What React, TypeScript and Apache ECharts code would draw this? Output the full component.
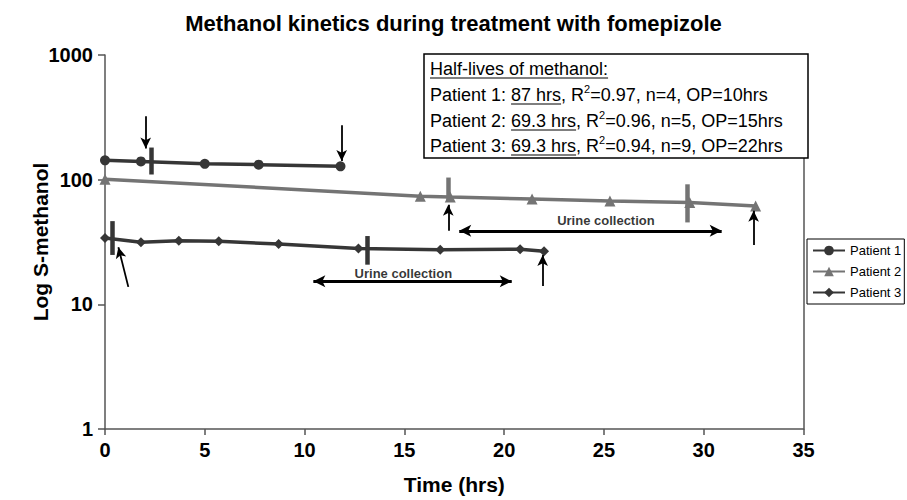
import React, { useEffect, useRef } from 'react';
import * as echarts from 'echarts';

const chartTitle = 'Methanol kinetics during treatment with fomepizole';
const xAxisName = 'Time (hrs)';
const yAxisName = 'Log S-methanol';
const seriesNames = ['Patient 1', 'Patient 2', 'Patient 3'];

const p1Time = [0, 1.8, 5.0, 7.7, 11.8];
const p1Value = [143, 140, 134, 132, 128];
const p2Time = [0, 15.8, 17.3, 21.4, 25.3, 29.3, 32.6];
const p2Value = [101, 73.5, 72.5, 70, 67.5, 65.5, 61.5];
const p3Time = [0, 1.8, 3.7, 5.7, 8.7, 12.7, 16.8, 20.8, 22.0];
const p3Value = [34.1, 31.5, 32.4, 32.0, 30.5, 28.0, 27.4, 27.7, 26.6];

// vertical bars: time, low value, high value, patient index
const barTimes = [2.3, 0.34, 13.15, 17.2, 29.2];
const barLow = [110, 24.9, 20.8, 67, 45.4];
const barHigh = [181, 46.5, 35.3, 104, 91.8];
const barPatient = [0, 2, 2, 1, 1];

// single arrows: tail (t, v) -> head (t, v)
const arrowTailT = [2.04, 11.86, 1.17, 17.2, 32.5, 21.93];
const arrowTailV = [322, 273, 13.8, 38.9, 29.9, 14.0];
const arrowHeadT = [2.04, 11.86, 0.67, 17.2, 32.5, 21.93];
const arrowHeadV = [178, 141, 28.7, 62.8, 56.2, 24.9];

// urine collection double arrows
const urineStart = [17.75, 10.44];
const urineEnd = [30.9, 20.38];
const urineLevel = [38.9, 15.3];
const urineLabelT = [25.1, 14.95];
const urineLabelV = [47.4, 17.8];
const urineLabelText = ['Urine collection', 'Urine collection'];

// half-life box
const boxHeader = 'Half-lives of methanol:';
const halfLives = ['87 hrs', '69.3 hrs', '69.3 hrs'];
const r2Values = ['0.97', '0.96', '0.94'];
const nValues = ['4', '5', '9'];
const opValues = ['10hrs', '15hrs', '22hrs'];

const FONT = "'Liberation Sans', Arial, Helvetica, sans-serif";
const DARK = '#363636';
const GREY = '#747474';
const seriesColors = [DARK, GREY, DARK];

export default function App() {
  const ref = useRef<HTMLDivElement>(null);
  useEffect(() => {
    if (!ref.current) return;
    const chart = echarts.init(ref.current, undefined, { renderer: 'svg' });

    const canvas = document.createElement('canvas');
    const ctx = canvas.getContext('2d')!;
    const measure = (s: string, size: number) => {
      ctx.font = `${size}px "Liberation Sans", Arial, sans-serif`;
      return ctx.measureText(s).width;
    };

    const boxX = 424, boxY = 54, boxW = 384, boxH = 104;
    const textX = 430;
    const fs = 18;
    const lineYs = [69, 95, 121, 146];
    const graphics: any[] = [
      { type: 'rect', shape: { x: boxX, y: boxY, width: boxW, height: boxH }, style: { fill: '#fff', stroke: '#000', lineWidth: 1.5 }, z: 10 },
    ];
    const addText = (s: string, x: number, y: number, size: number) => {
      graphics.push({ type: 'text', x, y, z: 11, style: { text: s, fontSize: size, fontFamily: FONT, fill: '#000', textAlign: 'left', textVerticalAlign: 'middle' } });
    };
    const addUnderline = (x1: number, x2: number, y: number) => {
      graphics.push({ type: 'line', z: 11, shape: { x1, y1: y, x2, y2: y }, style: { stroke: '#000', lineWidth: 1.2 } });
    };
    addText(boxHeader, textX, lineYs[0], fs);
    addUnderline(textX, textX + measure(boxHeader, fs), lineYs[0] + 9);
    for (let i = 0; i < 3; i++) {
      const y = lineYs[i + 1];
      let x = textX;
      const pre = `${seriesNames[i]}: `;
      addText(pre, x, y, fs);
      x += measure(pre, fs);
      addText(halfLives[i], x, y, fs);
      const w = measure(halfLives[i], fs);
      addUnderline(x, x + w, y + 9);
      x += w;
      const mid = ', R';
      addText(mid, x, y, fs);
      x += measure(mid, fs);
      addText('2', x, y - 6, 11);
      x += measure('2', 11);
      addText(`=${r2Values[i]}, n=${nValues[i]}, OP=${opValues[i]}`, x, y, fs);
    }

    const markData: any[] = [];
    barTimes.forEach((t, i) => {
      markData.push([
        { coord: [t, barHigh[i]], symbol: 'none', lineStyle: { color: seriesColors[barPatient[i]], width: 4.5, type: 'solid' } },
        { coord: [t, barLow[i]], symbol: 'none' },
      ]);
    });
    arrowTailT.forEach((t, i) => {
      markData.push([
        { coord: [t, arrowTailV[i]], symbol: 'none', lineStyle: { color: '#000', width: 1.8, type: 'solid' } },
        { coord: [arrowHeadT[i], arrowHeadV[i]], symbol: 'arrow', symbolSize: [8, 11] },
      ]);
    });
    urineStart.forEach((t, i) => {
      markData.push([
        { coord: [t, urineLevel[i]], symbol: 'arrow', symbolSize: [9, 12], lineStyle: { color: '#000', width: 3, type: 'solid' } },
        { coord: [urineEnd[i], urineLevel[i]], symbol: 'arrow', symbolSize: [9, 12] },
      ]);
    });

    const zip = (a: number[], b: number[]) => a.map((v, i) => [v, b[i]]);
    const axisLineStyle = { color: '#555', width: 1.5 };

    chart.setOption({
      animation: false,
      backgroundColor: '#fff',
      textStyle: { fontFamily: FONT },
      title: {
        text: chartTitle, left: 'center', top: 7,
        textStyle: { fontSize: 22, fontWeight: 'bold', color: '#000', fontFamily: FONT },
      },
      legend: {
        data: seriesNames, orient: 'vertical', left: 807, top: 239,
        itemWidth: 32, itemHeight: 12, itemGap: 8,
        padding: [5, 3, 5, 5], borderColor: '#000', borderWidth: 1, backgroundColor: '#fff',
        textStyle: { fontSize: 13, color: '#000', fontFamily: FONT },
      },
      grid: { left: 105, right: 103.5, top: 55, bottom: 69 },
      xAxis: {
        type: 'value', min: 0, max: 35, interval: 5,
        name: xAxisName, nameLocation: 'middle', nameGap: 45,
        nameTextStyle: { fontSize: 21, fontWeight: 'bold', color: '#000', fontFamily: FONT },
        axisLine: { lineStyle: axisLineStyle },
        axisTick: { show: true, length: 6, lineStyle: axisLineStyle },
        axisLabel: { fontSize: 20, fontWeight: 'bold', color: '#000', margin: 11, fontFamily: FONT },
        splitLine: { show: false },
      },
      yAxis: [
        {
          type: 'log', logBase: 10, min: 1, max: 1000,
          name: yAxisName, nameLocation: 'middle', nameGap: 54, nameMoveOverlap: false,
          nameTextStyle: { fontSize: 21, fontWeight: 'bold', color: '#000', fontFamily: FONT },
          axisLine: { show: true, lineStyle: axisLineStyle },
          axisTick: { show: true, length: 7, lineStyle: axisLineStyle },
          axisLabel: { fontSize: 20, fontWeight: 'bold', color: '#000', margin: 12, fontFamily: FONT, formatter: (v: number) => String(v) },
          splitLine: { show: false },
        },
        {
          type: 'log', logBase: 10, min: 1, max: 1000, position: 'right',
          axisLine: { show: true, lineStyle: axisLineStyle },
          axisTick: { show: false }, axisLabel: { show: false }, splitLine: { show: false },
        },
      ],
      series: [
        {
          name: seriesNames[0], type: 'line', data: zip(p1Time, p1Value),
          symbol: 'circle', symbolSize: 10, lineStyle: { width: 3.5, color: DARK }, itemStyle: { color: DARK }, z: 3,
        },
        {
          name: seriesNames[1], type: 'line', data: zip(p2Time, p2Value),
          symbol: 'triangle', symbolSize: 11, lineStyle: { width: 3.5, color: GREY }, itemStyle: { color: GREY }, z: 2,
        },
        {
          name: seriesNames[2], type: 'line', data: zip(p3Time, p3Value),
          symbol: 'diamond', symbolSize: 10, lineStyle: { width: 3.5, color: DARK }, itemStyle: { color: DARK }, z: 3,
        },
        {
          name: 'annotations', type: 'scatter', data: zip(urineLabelT, urineLabelV),
          symbolSize: 1, itemStyle: { color: 'rgba(0,0,0,0)' }, silent: true, z: 5,
          label: {
            show: true, position: 'inside', fontSize: 13, fontWeight: 'bold', color: '#000', fontFamily: FONT,
            formatter: (p: any) => urineLabelText[p.dataIndex],
          },
          markLine: {
            silent: true, animation: false, symbol: ['none', 'none'],
            label: { show: false }, emphasis: { disabled: true },
            data: markData,
          },
        },
      ],
      graphic: graphics,
    });
    return () => chart.dispose();
  }, []);
  return <div ref={ref} style={{ position: 'fixed', left: 0, top: 0, width: 907, height: 500, background: '#fff' }} />;
}
